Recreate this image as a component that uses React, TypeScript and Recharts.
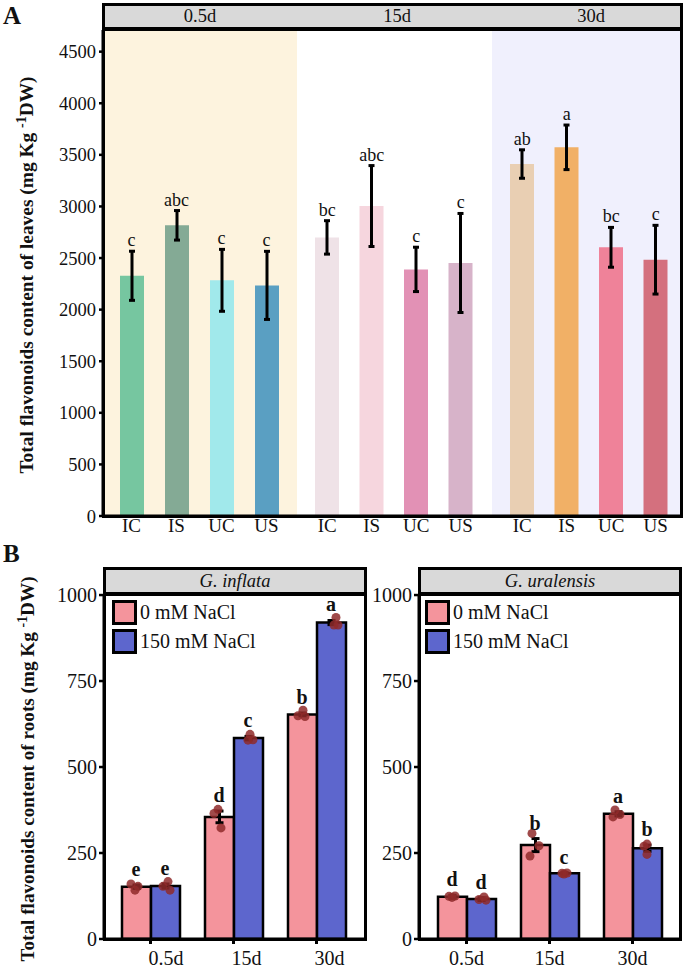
import React from "react";
import {
  ComposedChart,
  Bar,
  Cell,
  XAxis,
  YAxis,
  ErrorBar,
  Line,
  CartesianGrid,
  Legend,
} from "recharts";

const FONT = '"Liberation Serif", "Times New Roman", serif';

// ---------- Panel A: leaves ----------
const treatments = ["IC", "IS", "UC", "US"];
const stages = ["0.5d", "15d", "30d"];
const leafMean05 = [2328, 2817, 2284, 2235];
const leafSd05 = [238, 143, 300, 330];
const leafLetters05 = ["c", "abc", "c", "c"];
const leafMean15 = [2700, 3004, 2390, 2452];
const leafSd15 = [162, 392, 215, 480];
const leafLetters15 = ["bc", "abc", "c", "c"];
const leafMean30 = [3411, 3573, 2604, 2484];
const leafSd30 = [138, 216, 193, 333];
const leafLetters30 = ["ab", "a", "bc", "c"];
const leafTicks = [0, 500, 1000, 1500, 2000, 2500, 3000, 3500, 4000, 4500];

// ---------- Panel B: roots ----------
const days = ["0.5d", "15d", "30d"];
const seriesNames = ["0 mM NaCl", "150 mM NaCl"];
const speciesNames = ["G. inflata", "G. uralensis"];
const rootTicks = [0, 250, 500, 750, 1000];

const inflataCtrlMean = [152, 355, 653];
const inflataCtrlSd = [5, 17, 4];
const inflataCtrlReps = [
  [160, 142, 153],
  [377, 365, 323],
  [665, 649, 647],
];
const inflataCtrlLetters = ["e", "d", "b"];
const inflataSaltMean = [154, 584, 920];
const inflataSaltSd = [6, 5, 6];
const inflataSaltReps = [
  [167, 142, 153],
  [595, 579, 578],
  [935, 913, 913],
];
const inflataSaltLetters = ["e", "c", "a"];

const uralCtrlMean = [123, 273, 364];
const uralCtrlSd = [4, 19, 6];
const uralCtrlReps = [
  [121, 124, 125],
  [307, 271, 241],
  [375, 355, 362],
];
const uralCtrlLetters = ["d", "b", "a"];
const uralSaltMean = [116, 191, 264];
const uralSaltSd = [4, 2, 9];
const uralSaltReps = [
  [113, 122, 115],
  [189, 192, 191],
  [276, 246, 270],
];
const uralSaltLetters = ["d", "c", "b"];

// ---------- styles ----------
const colors05 = ["#76c6a0", "#84aa95", "#a1e9eb", "#5a9fc2"];
const colors15 = ["#efe2e7", "#f6d6de", "#e291b5", "#d7b3c9"];
const colors30 = ["#e9cfb3", "#f1b066", "#ef8299", "#d4707e"];
const bgColors = ["#fdf3de", "#ffffff", "#f0f0fd"];
const PINK = "#f4949c";
const BLUE = "#5d66cd";
const DOT = "#8f2a2a";
const STRIP = "#d9d9d9";
// horizontal jitter (px) of replicate dots: [series][day][rep]
const jitterInflata = {
  c: [[-5, -1, 2], [-1, -5, 2], [1, -4, 3]],
  s: [[3, 5, -2], [2, 5, 0], [5, 7, 3]],
};
const jitterUral = {
  c: [[0, -3, 3], [-3, 4, -5], [-3, -5, 2]],
  s: [[5, 3, -2], [0, 3, -2], [0, 0, -3]],
};

function leafRows(means: number[], sds: number[], letters: string[]) {
  return treatments.map((t, i) => ({
    t,
    mean: means[i],
    sd: sds[i],
    top: means[i] + sds[i],
    letter: letters[i],
  }));
}

function rootRows(
  cm: number[], cs: number[], cr: number[][], cl: string[],
  sm: number[], ss: number[], sr: number[][], sl: string[]
) {
  return days.map((d, i) => ({
    day: d,
    c: cm[i], cSd: cs[i], cTop: cm[i] + cs[i], cLet: cl[i],
    s: sm[i], sSd: ss[i], sTop: sm[i] + ss[i], sLet: sl[i],
    c0: cr[i][0], c1: cr[i][1], c2: cr[i][2],
    s0: sr[i][0], s1: sr[i][1], s2: sr[i][2],
  }));
}

const renderLeafLetter = (p: any) => (
  <text
    key={`ll-${p.index}`}
    x={p.cx}
    y={p.cy - 5}
    textAnchor="middle"
    fontSize={18}
    fontFamily={FONT}
    fill="#111"
  >
    {p.payload.letter}
  </text>
);

function LeafFacet(props: any) {
  const { left, width, rows, colors, bg, showY, padding } = props;
  return (
    <div style={{ position: "absolute", left, top: 0 }}>
      <ComposedChart
        width={width}
        height={560}
        data={rows}
        margin={{ top: 30, right: 0, bottom: 0, left: 0 }}
      >
        <CartesianGrid fill={bg} horizontal={false} vertical={false} stroke="none" />
        <XAxis
          dataKey="t"
          height={44}
          padding={padding}
          interval={0}
          axisLine={{ stroke: "#000", strokeWidth: 3 }}
          tickLine={false}
          tickSize={0}
          tickMargin={3}
          tick={{ fontSize: 19, fill: "#111", fontFamily: FONT }}
        />
        <YAxis
          hide={!showY}
          width={showY ? 103 : 0}
          domain={[0, 4710]}
          ticks={leafTicks}
          interval={0}
          axisLine={{ stroke: "#000", strokeWidth: 3 }}
          tickLine={{ stroke: "#000", strokeWidth: 2.5 }}
          tickSize={4}
          tickMargin={3}
          tick={{ fontSize: 18.5, fill: "#111", fontFamily: FONT }}
        />
        <Bar dataKey="mean" barSize={24} isAnimationActive={false}>
          {rows.map((r: any, i: number) => (
            <Cell key={r.t} fill={colors[i]} />
          ))}
          <ErrorBar dataKey="sd" width={3} strokeWidth={3} stroke="#000" direction="y" />
        </Bar>
        <Line
          dataKey="top"
          stroke="none"
          dot={renderLeafLetter}
          activeDot={false}
          legendType="none"
          isAnimationActive={false}
        />
      </ComposedChart>
    </div>
  );
}

const legendContent = () => (
  <div style={{ fontFamily: FONT }}>
    {seriesNames.map((n, i) => (
      <div key={n} style={{ display: "flex", alignItems: "center", height: 29 }}>
        <div
          style={{
            width: 25,
            height: 25,
            boxSizing: "border-box",
            background: i ? BLUE : PINK,
            border: "3px solid #000",
          }}
        />
        <span style={{ fontSize: 20, marginLeft: 3, color: "#111", whiteSpace: "nowrap" }}>{n}</span>
      </div>
    ))}
  </div>
);

function RootFacet(props: any) {
  const { left, width, yWidth, rows, jitter, padding, legendLeft, tickAnchor, tickDx } = props;
  const half = 14.5;
  const dotLines: any[] = [];
  ["c", "s"].forEach((k) => {
    [0, 1, 2].forEach((r) => {
      const off = k === "c" ? -half : half;
      dotLines.push(
        <Line
          key={`${k}${r}`}
          dataKey={`${k}${r}`}
          stroke="none"
          activeDot={false}
          legendType="none"
          isAnimationActive={false}
          dot={(p: any) => (
            <circle
              key={`d-${k}-${r}-${p.index}`}
              cx={p.cx + off + jitter[k][p.index][r]}
              cy={p.cy}
              r={4.5}
              fill={DOT}
              fillOpacity={0.85}
            />
          )}
        />
      );
    });
  });
  const letterLine = (k: string) => (
    <Line
      key={`let-${k}`}
      dataKey={`${k}Top`}
      stroke="none"
      activeDot={false}
      legendType="none"
      isAnimationActive={false}
      dot={(p: any) => (
        <text
          key={`t-${k}-${p.index}`}
          x={p.cx + (k === "c" ? -half : half)}
          y={p.cy - 9}
          textAnchor="middle"
          fontSize={20}
          fontWeight="bold"
          fontFamily={FONT}
          fill="#111"
        >
          {p.payload[`${k}Let`]}
        </text>
      )}
    />
  );
  const renderTick = (p: any) => (
    <text
      x={p.x + tickDx}
      y={p.y}
      dy="0.71em"
      textAnchor={tickAnchor}
      fontSize={20}
      fontFamily={FONT}
      fill="#111"
    >
      {p.payload.value}
    </text>
  );
  return (
    <div style={{ position: "absolute", left, top: 560 }}>
      <ComposedChart
        width={width}
        height={408}
        data={rows}
        barGap={0}
        margin={{ top: 34, right: 5, bottom: 0, left: 0 }}
      >
        <XAxis
          dataKey="day"
          height={29}
          padding={padding}
          interval={0}
          axisLine={{ stroke: "#000", strokeWidth: 3 }}
          tickLine={{ stroke: "#000", strokeWidth: 3 }}
          tickSize={5}
          tickMargin={7}
          tick={renderTick}
        />
        <YAxis
          width={yWidth}
          domain={[0, 1003]}
          ticks={rootTicks}
          interval={0}
          axisLine={{ stroke: "#000", strokeWidth: 3 }}
          tickLine={{ stroke: "#000", strokeWidth: 2.5 }}
          tickSize={5}
          tickMargin={2}
          tick={{ fontSize: 20, fill: "#111", fontFamily: FONT }}
        />
        <Bar dataKey="c" barSize={29} fill={PINK} stroke="#000" strokeWidth={2.5} isAnimationActive={false}>
          <ErrorBar dataKey="cSd" width={4} strokeWidth={3} stroke="#000" direction="y" />
        </Bar>
        <Bar dataKey="s" barSize={29} fill={BLUE} stroke="#000" strokeWidth={2.5} isAnimationActive={false}>
          <ErrorBar dataKey="sSd" width={4} strokeWidth={3} stroke="#000" direction="y" />
        </Bar>
        {dotLines}
        {letterLine("c")}
        {letterLine("s")}
        <Legend
          layout="vertical"
          align="center"
          verticalAlign="middle"
          content={legendContent}
          wrapperStyle={{ left: legendLeft, top: 38, width: 180, height: 60 }}
        />
      </ComposedChart>
    </div>
  );
}

function YTitle(props: any) {
  const { x, y, text, size } = props;
  return (
    <text
      transform={`translate(${x},${y}) rotate(-90)`}
      textAnchor="middle"
      fontSize={size}
      fontWeight="bold"
      fontFamily={FONT}
      fill="#111"
    >
      {text}
      <tspan dy={-7} fontSize={size * 0.72}>-1</tspan>
      <tspan dy={7}>DW)</tspan>
    </text>
  );
}

const box = (l: number, t: number, w: number, h: number, extra: any = {}) => ({
  position: "absolute" as const,
  left: l,
  top: t,
  width: w,
  height: h,
  boxSizing: "border-box" as const,
  border: "3px solid #000",
  pointerEvents: "none" as const,
  ...extra,
});

export default function App() {
  const rowsA = [
    leafRows(leafMean05, leafSd05, leafLetters05),
    leafRows(leafMean15, leafSd15, leafLetters15),
    leafRows(leafMean30, leafSd30, leafLetters30),
  ];
  const rowsInflata = rootRows(
    inflataCtrlMean, inflataCtrlSd, inflataCtrlReps, inflataCtrlLetters,
    inflataSaltMean, inflataSaltSd, inflataSaltReps, inflataSaltLetters
  );
  const rowsUral = rootRows(
    uralCtrlMean, uralCtrlSd, uralCtrlReps, uralCtrlLetters,
    uralSaltMean, uralSaltSd, uralSaltReps, uralSaltLetters
  );
  const stripCenters = [200, 397, 591];
  return (
    <div
      style={{
        position: "absolute",
        left: 0,
        top: 0,
        width: 685,
        height: 968,
        background: "#fff",
        fontFamily: FONT,
        overflow: "hidden",
      }}
    >
      {/* Panel A facets */}
      <LeafFacet left={0} width={297} rows={rowsA[0]} colors={colors05} bg={bgColors[0]} showY padding={{ left: 6, right: 8 }} />
      <LeafFacet left={297} width={195} rows={rowsA[1]} colors={colors15} bg={bgColors[1]} padding={{ left: 8, right: 9 }} />
      <LeafFacet left={492} width={190} rows={rowsA[2]} colors={colors30} bg={bgColors[2]} padding={{ left: 8, right: 4 }} />

      {/* Panel A strip + frame */}
      <div style={box(102, 3, 581, 27, { background: STRIP })} />
      {stages.map((s, i) => (
        <div
          key={s}
          style={{
            position: "absolute",
            left: stripCenters[i] - 40,
            width: 80,
            top: 5,
            textAlign: "center",
            fontSize: 18.5,
            lineHeight: "22px",
            color: "#111",
          }}
        >
          {s}
        </div>
      ))}
      <div style={box(102, 28, 581, 490)} />

      {/* Panel B facets */}
      <RootFacet left={0} width={370} yWidth={104} rows={rowsInflata} jitter={jitterInflata} padding={{ left: 5, right: 7 }} legendLeft={112} tickAnchor="start" tickDx={-2} />
      <RootFacet left={340} width={345} yWidth={79} rows={rowsUral} jitter={jitterUral} padding={{ left: 6, right: 6 }} legendLeft={85} tickAnchor="middle" tickDx={0} />

      {/* Panel B strips + frames */}
      {[103, 418].map((l, i) => (
        <React.Fragment key={l}>
          <div style={box(l, 567, 264, 28, { background: STRIP })} />
          <div
            style={{
              position: "absolute",
              left: l,
              width: 264,
              top: 569,
              textAlign: "center",
              fontSize: 18.5,
              fontStyle: "italic",
              lineHeight: "24px",
              color: "#111",
            }}
          >
            {speciesNames[i]}
          </div>
          <div style={box(l, 593, 264, 348)} />
        </React.Fragment>
      ))}

      {/* Titles */}
      <svg width={685} height={968} style={{ position: "absolute", left: 0, top: 0, pointerEvents: "none" }}>
        <text x={3} y={24} fontSize={25} fontWeight="bold" fontFamily={FONT} fill="#111">A</text>
        <text x={3} y={562} fontSize={25} fontWeight="bold" fontFamily={FONT} fill="#111">B</text>
        <YTitle x={33} y={275} size={19.4} text="Total flavonoids content of leaves (mg Kg " />
        <YTitle x={34} y={769} size={19.2} text="Total flavonoids content of roots (mg Kg " />
      </svg>
    </div>
  );
}
